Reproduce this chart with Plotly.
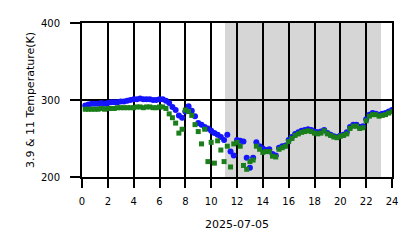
import plotly.graph_objects as go

hours = [0.25, 0.5, 0.75, 1.0, 1.25, 1.5, 1.75, 2.0, 2.25, 2.5, 2.75, 3.0,
         3.25, 3.5, 3.75, 4.0, 4.25, 4.5, 4.75, 5.0, 5.25, 5.5, 5.75, 6.0,
         6.25, 6.5, 6.75, 7.0, 7.25, 7.5, 7.75, 8.0, 8.25, 8.5, 8.75, 9.0,
         9.25, 9.5, 9.75, 10.0, 10.25, 10.5, 10.75, 11.0, 11.25, 11.5, 11.75, 12.0,
         12.25, 12.5, 12.75, 13.0, 13.25, 13.5, 13.75, 14.0, 14.25, 14.5, 14.75, 15.0,
         15.25, 15.5, 15.75, 16.0, 16.25, 16.5, 16.75, 17.0, 17.25, 17.5, 17.75, 18.0,
         18.25, 18.5, 18.75, 19.0, 19.25, 19.5, 19.75, 20.0, 20.25, 20.5, 20.75, 21.0,
         21.25, 21.5, 21.75, 22.0, 22.25, 22.5, 22.75, 23.0, 23.25, 23.5, 23.75, 24.0]

temp_39 = [293, 294, 295, 295, 295, 296, 295, 296, 297, 297, 297, 298,
           298, 299, 300, 301, 301, 302, 301, 301, 301, 300, 300, 301,
           301, 299, 296, 291, 287, 280, 277, 285, 292, 286, 279, 270,
           268, 265, 263, 260, 257, 255, 252, 248, 255, 233, 228, 248,
           247, 246, 225, 212, 225, 245, 240, 237, 235, 236, 230, 228,
           238, 240, 241, 248, 252, 256, 258, 260, 261, 262, 261, 259,
           258, 259, 261, 257, 255, 253, 252, 254, 255, 258, 265, 268,
           268, 265, 266, 275, 281, 283, 282, 281, 282, 283, 285, 287]

temp_11 = [288, 288, 288, 288, 288, 289, 288, 289, 289, 289, 290, 290,
           290, 290, 290, 290, 291, 291, 290, 291, 291, 290, 290, 291,
           291, 289, 282, 277, 270, 257, 262, 287, 285, 280, 268, 259,
           243, 262, 220, 245, 218, 247, 235, 220, 240, 213, 243, 245,
           240, 215, 210, 220, 222, 240, 236, 232, 233, 233, 227, 226,
           236, 238, 240, 246, 250, 254, 256, 258, 259, 260, 259, 257,
           256, 257, 260, 256, 254, 252, 251, 253, 254, 256, 263, 266,
           266, 263, 264, 273, 279, 281, 281, 279, 280, 281, 283, 285]

night_start = 11.07
night_end = 23.15

x_ticks = [0, 2, 4, 6, 8, 10, 12, 14, 16, 18, 20, 22, 24]
y_ticks = [200, 300, 400]

fig = go.Figure()
fig.add_trace(go.Scatter(x=hours, y=temp_39, mode="markers", name="3.9",
                         marker=dict(symbol="circle", size=6, color="#1414ff", line=dict(width=0))))
fig.add_trace(go.Scatter(x=hours, y=temp_11, mode="markers", name="11",
                         marker=dict(symbol="square", size=5, color="#1a7f1a", line=dict(width=0))))

fig.add_shape(type="rect", xref="x", yref="paper", x0=night_start, x1=night_end,
              y0=0, y1=1, fillcolor="#d6d6d6", line=dict(width=0), layer="below")

font = dict(family="DejaVu Sans", size=10, color="black")
title_font = dict(family="DejaVu Sans", size=11, color="black")

fig.update_layout(
    width=418, height=248,
    margin=dict(l=82, r=26, t=23, b=71),
    paper_bgcolor="white", plot_bgcolor="white",
    showlegend=False,
    font=font,
    xaxis=dict(range=[0, 24], tickvals=x_ticks, ticktext=[str(v) for v in x_ticks],
               showgrid=True, gridcolor="black", gridwidth=2,
               showline=True, linecolor="black", linewidth=2, mirror=True,
               ticks="outside", ticklen=9, tickwidth=2, tickcolor="black",
               ticklabelstandoff=5, zeroline=False,
               title=dict(text="2025-07-05", font=title_font, standoff=14)),
    yaxis=dict(range=[200, 400], tickvals=y_ticks, ticktext=[str(v) for v in y_ticks],
               showgrid=True, gridcolor="black", gridwidth=2,
               showline=True, linecolor="black", linewidth=2, mirror=True,
               ticks="outside", ticklen=10, tickwidth=2, tickcolor="black",
               ticklabelstandoff=8, zeroline=False,
               title=dict(text="3.9 & 11 Temperature(K)", font=title_font, standoff=4)),
)

fig.write_html("out.html")
